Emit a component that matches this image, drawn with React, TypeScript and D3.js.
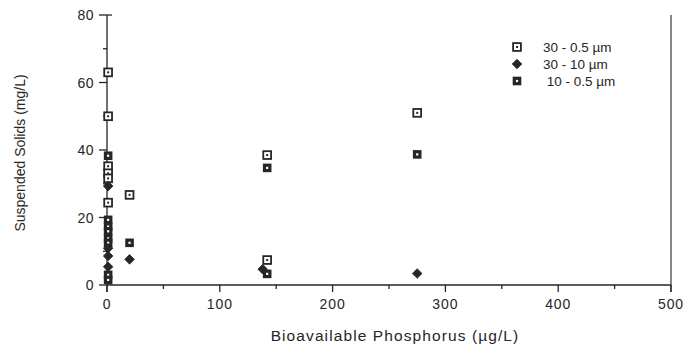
import React from "react";
import * as d3 from "d3";

const seriesNames = ["30 - 0.5 \u00b5m", "30 - 10 \u00b5m", " 10 - 0.5 \u00b5m"];

const coarseFineX = [1, 1, 1, 1, 1, 1, 20, 142, 142, 275];
const coarseFineY = [63, 50, 35.2, 33.1, 31.6, 24.4, 26.7, 38.5, 7.4, 51];

const coarseX = [1, 1, 1, 1, 20, 138, 275];
const coarseY = [29.3, 10.9, 8.6, 5.4, 7.6, 4.7, 3.4];

const fineX = [1, 1, 1, 1, 1, 1, 1, 1, 20, 142, 142, 275];
const fineY = [38.3, 19.3, 17.3, 15.9, 13.8, 12.5, 3.0, 1.5, 12.5, 34.7, 3.3, 38.7];

const xMajor = [0, 100, 200, 300, 400, 500];
const xMinor = [50, 150, 250, 350, 450];
const yMajor = [0, 20, 40, 60, 80];
const yMinor = [10, 30, 50, 70];

const INK = "#262626";
const FONT = "'Liberation Sans', Arial, Helvetica, sans-serif";

function OpenSq({ cx, cy }: { cx: number; cy: number }) {
  return (
    <g>
      <rect x={cx - 3.9} y={cy - 3.9} width={7.8} height={7.8} fill="#fff" stroke={INK} strokeWidth={1.8} />
      <rect x={cx - 1} y={cy - 1} width={2} height={2} fill={INK} />
    </g>
  );
}
function DarkSq({ cx, cy }: { cx: number; cy: number }) {
  return (
    <g>
      <rect x={cx - 4.3} y={cy - 4.3} width={8.6} height={8.6} fill={INK} />
      <rect x={cx - 1.1} y={cy - 1.1} width={2.2} height={2.2} fill="#fff" />
    </g>
  );
}
function Diamond({ cx, cy }: { cx: number; cy: number }) {
  const r = 4.8;
  return <path d={`M${cx},${cy - r}L${cx + r},${cy}L${cx},${cy + r}L${cx - r},${cy}Z`} fill={INK} stroke={INK} strokeWidth={0.8} strokeLinejoin="round" />;
}

export default function App() {
  const W = 687, H = 347;
  const x = d3.scaleLinear().domain([0, 500]).range([107, 671]);
  const y = d3.scaleLinear().domain([0, 80]).range([285, 15]);
  const x0 = x(0), y0 = y(0);

  return (
    <svg width={W} height={H} style={{ position: "absolute", left: 0, top: 0, background: "#fff" }} fontFamily={FONT}>
      {/* axes */}
      <line x1={x0} x2={x0} y1={y(80)} y2={y0 + 7} stroke={INK} strokeWidth={1.3} />
      <line x1={x0} x2={x(500)} y1={y0} y2={y0} stroke={INK} strokeWidth={1.3} />
      <line x1={x(500)} x2={x(500)} y1={y(80)} y2={y0 + 7} stroke={INK} strokeWidth={1.1} />
      {xMajor.map((v) => (
        <g key={"xm" + v}>
          <line x1={x(v)} x2={x(v)} y1={y0} y2={y0 + 7} stroke={INK} strokeWidth={1.3} />
          <text x={x(v)} y={y0 + 24} textAnchor="middle" fontSize={14} fill={INK} letterSpacing={0.9}>{v}</text>
        </g>
      ))}
      {xMinor.map((v) => (
        <line key={"xn" + v} x1={x(v)} x2={x(v)} y1={y0} y2={y0 + 4} stroke={INK} strokeWidth={1.3} />
      ))}
      {yMajor.map((v) => (
        <g key={"ym" + v}>
          <line x1={x0 - 8} x2={x0 + (v === 80 ? 5 : 0)} y1={y(v)} y2={y(v)} stroke={INK} strokeWidth={1.3} />
          <text x={x0 - 13} y={y(v) + 5} textAnchor="end" fontSize={14} fill={INK} letterSpacing={0.5}>{v}</text>
        </g>
      ))}
      {yMinor.map((v) => (
        <line key={"yn" + v} x1={x0 - 4} x2={x0} y1={y(v)} y2={y(v)} stroke={INK} strokeWidth={1.3} />
      ))}

      {/* titles */}
      <text x={395} y={341} textAnchor="middle" fontSize={15.5} fill={INK} letterSpacing={1.1}>
        Bioavailable Phosphorus (µg/L)
      </text>
      <text transform={`translate(25,${153}) rotate(-90)`} textAnchor="middle" fontSize={14} fill={INK} letterSpacing={0}>
        Suspended Solids (mg/L)
      </text>

      {/* data */}
      {fineX.map((v, i) => <DarkSq key={"f" + i} cx={x(v)} cy={y(fineY[i])} />)}
      {coarseFineX.map((v, i) => <OpenSq key={"cf" + i} cx={x(v)} cy={y(coarseFineY[i])} />)}
      {coarseX.map((v, i) => <Diamond key={"c" + i} cx={x(v)} cy={y(coarseY[i])} />)}

      {/* legend */}
      <OpenSq cx={517} cy={47} />
      <text x={543} y={52} fontSize={13.5} fill={INK}>{seriesNames[0]}</text>
      <Diamond cx={517} cy={64} />
      <text x={543} y={69} fontSize={13.5} fill={INK}>{seriesNames[1]}</text>
      <DarkSq cx={517} cy={81} />
      <text x={543} y={86} fontSize={13.5} fill={INK} style={{ whiteSpace: "pre" }}>{seriesNames[2]}</text>
    </svg>
  );
}
